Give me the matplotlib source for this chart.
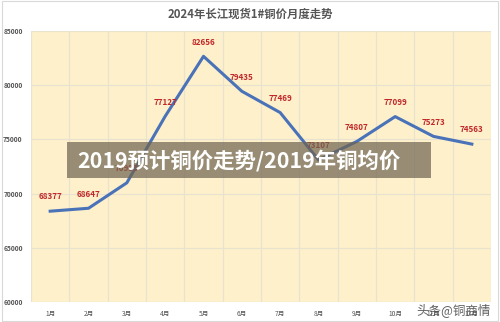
import matplotlib
matplotlib.use("Agg")
import matplotlib.pyplot as plt
from matplotlib.patches import Rectangle

plt.rcParams['font.family'] = ['Noto Sans CJK SC', 'DejaVu Sans']

months = ["1月", "2月", "3月", "4月", "5月", "6月", "7月", "8月", "9月", "10月", "11月", "12月"]
prices = [68377, 68647, 70993, 77127, 82656, 79435, 77469, 73107, 74807, 77099, 75273, 74563]
y_ticks = [60000, 65000, 70000, 75000, 80000, 85000]

title = "2024年长江现货1#铜价月度走势"
banner = "2019预计铜价走势/2019年铜均价"
watermark = "头条@铜商情"

fig = plt.figure(figsize=(5.0, 3.22), dpi=100)
fig.patch.set_facecolor("white")

# light outer frame
fig.add_artist(Rectangle((0.004, 0.004), 0.992, 0.992, transform=fig.transFigure,
                         fill=False, edgecolor="#d9d9d9", linewidth=0.8))

ax = fig.add_axes([0.062, 0.062, 0.92, 0.842])
ax.set_facecolor("#fdf0cb")

x = list(range(len(months)))
ax.set_xlim(-0.5, len(months) - 0.5)
ax.set_ylim(60000, 85000)

# horizontal grid at value ticks, vertical grid between categories
for yv in y_ticks:
    ax.axhline(yv, color="#e8e2cf", linewidth=0.8, zorder=1)
for b in range(len(months) + 1):
    ax.axvline(b - 0.5, color="#e8e2cf", linewidth=0.8, zorder=1)

ax.plot(x, prices, color="#4a72b8", linewidth=2.2, solid_joinstyle="round", zorder=3)

for xi, v in zip(x, prices):
    ax.annotate(f"{v}", (xi, v), xytext=(0, 7), textcoords="offset points",
                ha="center", va="bottom", fontsize=5.8, color="#c0282a",
                fontweight="bold", zorder=4)

ax.set_yticks(y_ticks)
ax.set_yticklabels([str(t) for t in y_ticks], fontsize=4.8, color="#555555", fontweight="bold")
ax.set_xticks(x)
ax.set_xticklabels(months, fontsize=4.8, color="#555555")
ax.tick_params(axis="both", length=0, pad=6)
for s in ax.spines.values():
    s.set_visible(False)

fig.text(0.5, 0.955, title, ha="center", va="center", fontsize=8.2,
         color="#555555", fontweight="bold")

# overlay banner across the middle
fig.add_artist(Rectangle((0.134, 0.447), 0.728, 0.112, transform=fig.transFigure,
                         facecolor="#6e6450", alpha=0.7, edgecolor="none", zorder=10))
fig.text(0.154, 0.503, banner, ha="left", va="center", fontsize=15.4,
         color="white", fontweight="bold", zorder=11)

fig.text(0.982, 0.038, watermark, ha="right", va="center", fontsize=9,
         color="#444444", alpha=0.85, zorder=11)

fig.savefig("out.png", dpi=100)
